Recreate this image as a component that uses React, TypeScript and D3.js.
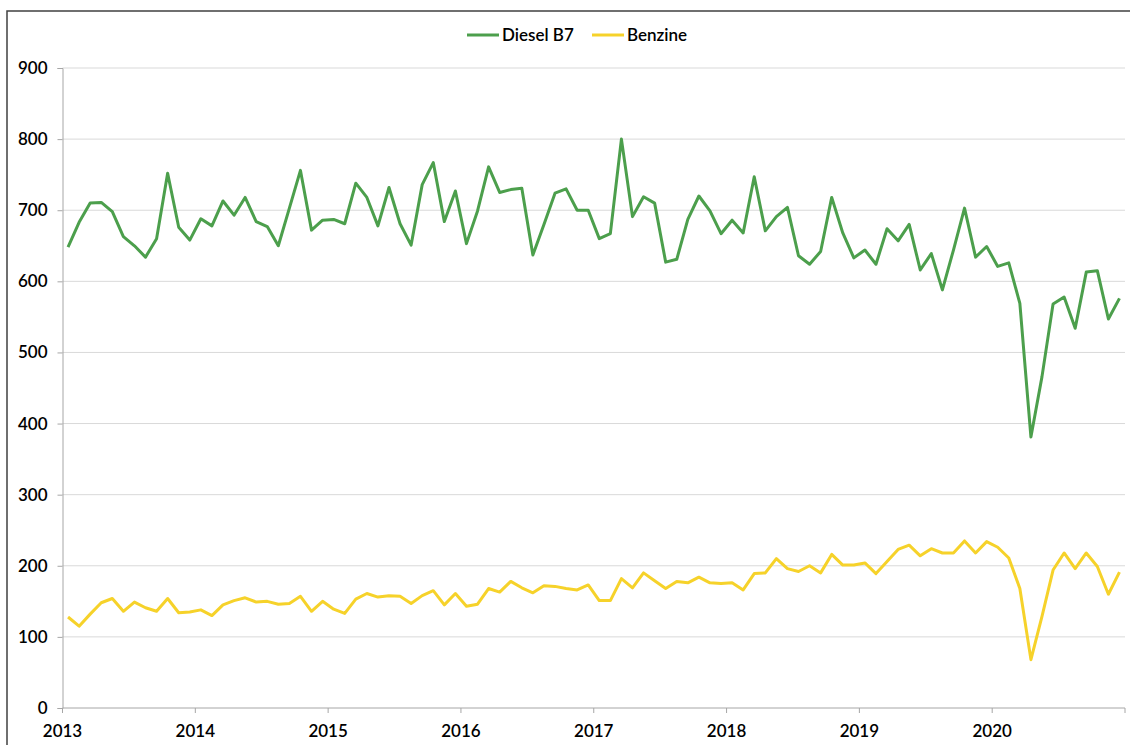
import React, { useEffect, useRef } from 'react';
import * as d3 from 'd3';

const years = ['2013', '2014', '2015', '2016', '2017', '2018', '2019', '2020'];

// monthly values, Jan 2013 - Dec 2020
const diesel = [
  648, 683, 710, 711, 698, 663, 650, 634, 660, 752, 676, 658,
  688, 678, 713, 693, 718, 684, 677, 650, 703, 756, 672, 686,
  687, 681, 738, 718, 678, 732, 681, 651, 736, 767, 684, 727,
  653, 699, 761, 725, 729, 731, 637, 680, 724, 730, 700, 700,
  660, 667, 800, 691, 719, 710, 627, 631, 687, 720, 699, 667,
  686, 668, 747, 671, 691, 704, 636, 624, 642, 718, 668, 633,
  644, 624, 674, 657, 680, 616, 639, 588, 644, 703, 634, 649,
  621, 626, 569, 381, 466, 568, 578, 534, 613, 615, 547, 576,
];

const benzine = [
  128, 115, 132, 148, 154, 136, 149, 141, 136, 154, 134, 135,
  138, 130, 145, 151, 155, 149, 150, 146, 147, 157, 136, 150,
  139, 133, 153, 161, 156, 158, 157, 147, 158, 165, 145, 161,
  143, 146, 168, 163, 178, 169, 162, 172, 171, 168, 166, 173,
  151, 151, 182, 169, 190, 179, 168, 178, 176, 184, 176, 175,
  176, 166, 189, 190, 210, 196, 192, 200, 190, 216, 201, 201,
  204, 189, 206, 223, 229, 214, 224, 218, 218, 235, 218, 234,
  226, 211, 168, 68, 129, 194, 218, 196, 218, 199, 160, 191,
];

const yTicks = [0, 100, 200, 300, 400, 500, 600, 700, 800, 900];

const seriesNames = ['Diesel B7', 'Benzine'];
const seriesColors = ['#4c9f4c', '#f6d22a'];

const App = () => {
  const ref = useRef<SVGSVGElement | null>(null);

  useEffect(() => {
    const width = 1130, height = 745;
    const margin = { top: 68, right: 5, bottom: 37, left: 62.5 };
    const font = 'Lato, "DejaVu Sans", sans-serif';

    const svg = d3.select(ref.current);
    svg.selectAll('*').remove();

    // outer frame (runs off the right and bottom of the picture)
    svg.append('rect')
      .attr('x', 7).attr('y', 11)
      .attr('width', width + 20).attr('height', height + 20)
      .attr('fill', 'none')
      .attr('stroke', '#404040')
      .attr('stroke-width', 1.5);

    const months = d3.range(diesel.length);
    const x = d3.scaleBand<number>()
      .domain(months)
      .range([margin.left, width - margin.right])
      .padding(0);
    const cx = (i: number) => (x(i) as number) + x.bandwidth() / 2;

    const y = d3.scaleLinear()
      .domain([0, 900])
      .range([height - margin.bottom, margin.top]);

    // gridlines
    svg.append('g')
      .selectAll('line')
      .data(yTicks.filter(d => d > 0))
      .enter()
      .append('line')
      .attr('x1', margin.left).attr('x2', width - margin.right)
      .attr('y1', d => y(d)).attr('y2', d => y(d))
      .attr('stroke', '#d9d9d9')
      .attr('stroke-width', 1);

    // y axis
    const yAxis = svg.append('g')
      .attr('transform', `translate(${margin.left},0)`)
      .call(d3.axisLeft(y).tickValues(yTicks).tickSize(5).tickPadding(10));
    yAxis.select('.domain').attr('stroke', '#a6a6a6');
    yAxis.selectAll('.tick line').attr('stroke', '#a6a6a6');
    yAxis.selectAll('.tick text')
      .attr('fill', '#000')
      .style('font-family', font)
      .style('font-size', '17px')
      .style('font-weight', 600);

    // x axis: ticks at the start of each year plus the end
    const xTickPos = years.map((_, k) => x(k * 12) as number).concat([width - margin.right]);
    const xg = svg.append('g');
    xg.append('line')
      .attr('x1', margin.left).attr('x2', width - margin.right)
      .attr('y1', y(0)).attr('y2', y(0))
      .attr('stroke', '#a6a6a6');
    xg.selectAll('line.tk')
      .data(xTickPos)
      .enter()
      .append('line')
      .attr('class', 'tk')
      .attr('x1', d => d).attr('x2', d => d)
      .attr('y1', y(0)).attr('y2', y(0) + 5)
      .attr('stroke', '#a6a6a6');
    xg.selectAll('text')
      .data(years)
      .enter()
      .append('text')
      .attr('x', (_, k) => x(k * 12) as number)
      .attr('y', y(0) + 29)
      .attr('text-anchor', 'middle')
      .style('font-family', font)
      .style('font-size', '17px')
      .style('font-weight', 600)
      .text(d => d);

    // lines
    const line = d3.line<number>()
      .x((_, i) => cx(i))
      .y(d => y(d));

    [diesel, benzine].forEach((s, k) => {
      svg.append('path')
        .datum(s)
        .attr('d', line)
        .attr('fill', 'none')
        .attr('stroke', seriesColors[k])
        .attr('stroke-width', 3)
        .attr('stroke-linejoin', 'round');
    });

    // legend
    const legendX = [467, 592];
    const lg = svg.append('g');
    seriesNames.forEach((name, k) => {
      lg.append('line')
        .attr('x1', legendX[k]).attr('x2', legendX[k] + 32)
        .attr('y1', 35).attr('y2', 35)
        .attr('stroke', seriesColors[k])
        .attr('stroke-width', 3);
      lg.append('text')
        .attr('x', legendX[k] + 35)
        .attr('y', 41)
        .style('font-family', font)
        .style('font-size', '17px')
        .style('font-weight', 600)
        .text(name);
    });
  }, []);

  return (
    <svg
      ref={ref}
      width={1130}
      height={745}
      style={{ position: 'absolute', left: 0, top: 0, background: '#fff' }}
    />
  );
};

export default App;
